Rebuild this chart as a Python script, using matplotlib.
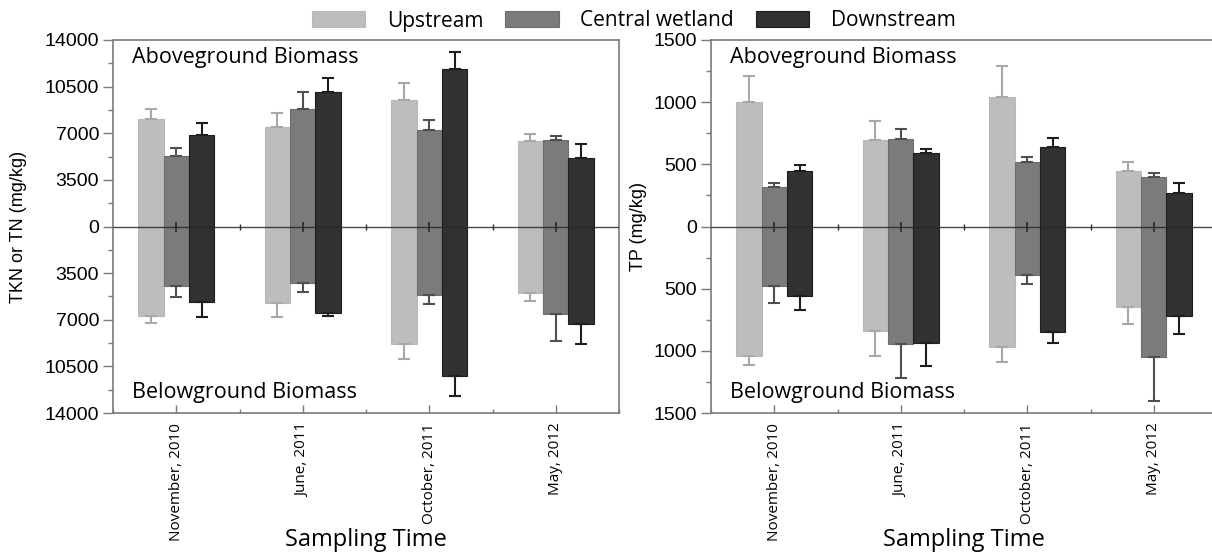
import numpy as np
import matplotlib
matplotlib.use("Agg")
from matplotlib import pyplot as plt
from matplotlib.ticker import FuncFormatter, MultipleLocator

# sampling times and sites
times = ["November, 2010", "June, 2011", "October, 2011", "May, 2012"]
sites = ["Upstream", "Central wetland", "Downstream"]

# TKN / TN (mg/kg): aboveground and belowground means with one-sided error
tn_above = [[8075, 7500, 9500, 6400],
            [5300, 8825, 7225, 6525],
            [6900, 10100, 11850, 5175]]
tn_above_err = [[725, 1050, 1300, 575],
                [600, 1300, 775, 300],
                [850, 1025, 1250, 1050]]
tn_below = [[6700, 5725, 8800, 5025],
            [4450, 4275, 5175, 6550],
            [5675, 6475, 11200, 7350]]
tn_below_err = [[550, 1050, 1150, 600],
                [850, 650, 675, 2050],
                [1150, 225, 1525, 1475]]

# TP (mg/kg)
tp_above = [[1000, 697, 1039, 447],
            [321, 705, 522, 399],
            [445, 595, 643, 268]]
tp_above_err = [[208, 155, 250, 75],
                [27, 83, 35, 35],
                [53, 29, 70, 83]]
tp_below = [[1039, 841, 967, 651],
            [480, 946, 394, 1050],
            [563, 938, 847, 721]]
tp_below_err = [[75, 201, 123, 131],
                [136, 270, 69, 356],
                [107, 182, 93, 144]]

colors = ["#bdbdbd", "#7b7b7b", "#313131"]
edges = ["#b8b8b8", "#6e6e6e", "#1e1e1e"]
err_colors = ["#a8a8a8", "#505050", "#1e1e1e"]

num_font = "Liberation Sans"
txt_font = "Open Sans"
spine_c = "#7a7a7a"


def draw_panel(ax, above, above_err, below, below_err, ymax, step, ylabel, ylab_x):
    x = np.arange(1, len(times) + 1)
    w = 0.2
    for i in range(len(sites)):
        pos = x + (i - 1) * w
        up = np.array(above[i])
        dn = -np.array(below[i])
        ax.bar(pos, up, w, color=colors[i], edgecolor=edges[i], linewidth=0.8,
               label=sites[i], zorder=2)
        ax.bar(pos, dn, w, color=colors[i], edgecolor=edges[i], linewidth=0.8,
               zorder=2)
        z = np.zeros(len(times))
        ax.errorbar(pos, up, yerr=[z, above_err[i]], fmt="none",
                    ecolor=err_colors[i], elinewidth=1.5, capsize=4,
                    capthick=1.5, zorder=3)
        ax.errorbar(pos, dn, yerr=[below_err[i], z], fmt="none",
                    ecolor=err_colors[i], elinewidth=1.5, capsize=4,
                    capthick=1.5, zorder=3)

    # zero line with its own tick marks
    ax.axhline(0, color="#2a2a2a", lw=1.0, alpha=0.85, zorder=4)
    ax.plot(x, np.zeros(len(x)), ls="none", marker="|", ms=7, mew=1.2,
            color="#2a2a2a", zorder=4)
    ax.plot(x[:-1] + 0.5, np.zeros(len(x) - 1), ls="none", marker="|", ms=4,
            mew=1.0, color="#2a2a2a", zorder=4)

    ax.set_xlim(0.5, 4.5)
    ax.set_ylim(-ymax, ymax)
    ax.set_xticks(x)
    ax.set_xticklabels(times, rotation=90, ha="center", va="top",
                       family=txt_font, fontsize=11)
    ax.xaxis.set_minor_locator(MultipleLocator(0.5))
    ax.tick_params(axis="x", which="major", direction="in", length=6,
                   width=1.0, color=spine_c, pad=7)
    ax.tick_params(axis="x", which="minor", direction="in", length=3,
                   width=1.0, color=spine_c)
    ax.set_yticks(np.arange(-ymax, ymax + 1, step))
    ax.yaxis.set_minor_locator(MultipleLocator(step / 2))
    ax.yaxis.set_major_formatter(FuncFormatter(lambda v, p: f"{abs(v):.0f}"))
    ax.tick_params(axis="y", which="major", direction="out", length=7,
                   width=1.0, color=spine_c, labelsize=14, pad=3)
    ax.tick_params(axis="y", which="minor", direction="out", length=3.5,
                   width=1.0, color=spine_c)
    for lab in ax.get_yticklabels():
        lab.set_family(num_font)
    for s in ax.spines.values():
        s.set_color(spine_c)
        s.set_linewidth(1.2)

    ax.set_ylabel(ylabel, family=num_font, fontsize=13)
    ax.yaxis.set_label_coords(ylab_x, 0.5)
    ax.set_xlabel("Sampling Time", family=txt_font, fontsize=17)
    ax.xaxis.set_label_coords(0.5, -0.34)
    ax.xaxis.label.set_va("center")

    ax.text(0.037, 0.952, "Aboveground Biomass", transform=ax.transAxes,
            family=txt_font, fontsize=15.5, va="center", ha="left")
    ax.text(0.037, 0.056, "Belowground Biomass", transform=ax.transAxes,
            family=txt_font, fontsize=15.5, va="center", ha="left")


fig = plt.figure(figsize=(12.12, 5.52), dpi=100)
ax1 = fig.add_axes([113 / 1212, 1 - 413 / 552, 506 / 1212, 373 / 552])
ax2 = fig.add_axes([711 / 1212, 1 - 413 / 552, 506 / 1212, 373 / 552])

draw_panel(ax1, tn_above, tn_above_err, tn_below, tn_below_err,
           14000, 3500, "TKN or TN (mg/kg)", -0.17)
draw_panel(ax2, tp_above, tp_above_err, tp_below, tp_below_err,
           1500, 500, "TP (mg/kg)", -0.127)

handles, labels = ax1.get_legend_handles_labels()
fig.legend(handles, labels, loc="center", bbox_to_anchor=(634 / 1212, 1 - 21 / 552),
           ncol=3, frameon=False, prop={"family": txt_font, "size": 15},
           handlelength=2.55, handleheight=0.77, handletextpad=1.05,
           columnspacing=1.05, borderaxespad=0)

fig.savefig("out.png", dpi=100)
